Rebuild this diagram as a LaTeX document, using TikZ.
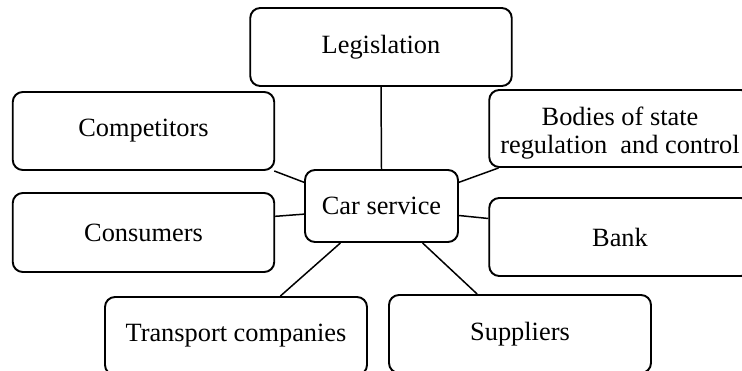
\documentclass[tikz,border=0pt]{standalone}
\usepackage{fontspec}
\setmainfont{Liberation Serif}
\usepackage{tikz}

\begin{document}
\begin{tikzpicture}[
   box/.style={draw, line width=1.1pt, rounded corners=0.2cm, minimum width=5.23cm, minimum height=1.56cm, align=center, inner sep=0pt},
   hub/.style={box, minimum width=3.06cm, minimum height=1.44cm},
   link/.style={line width=0.85pt},
   font=\fontsize{15}{16}\selectfont]
   \useasboundingbox (0, 0) rectangle (14.84, 7.42);
   \node [box] (leg) at (7.62, 6.48) {Legislation};
   \node [box] (comp) at (2.87, 4.80) {Competitors};
   \node [box, minimum height=1.54cm] (body) at (12.40, 4.85) {\raisebox{-0.1cm}[\height][\depth]{\begin{tabular}{@{}c@{}}Bodies of state\\regulation~ and control\end{tabular}}};
   \node [hub] (car) at (7.63, 3.30) {Car service};
   \node [box, minimum height=1.58cm] (cons) at (2.87, 2.77) {Consumers};
   \node [box] (bank) at (12.40, 2.68) {Bank};
   \node [box, minimum width=5.24cm] (trans) at (4.72, 0.70) {Transport companies};
   \node [box, minimum width=5.24cm] (supp) at (10.40, 0.74) {Suppliers};

   \draw [link] (leg.south) -- (car.north);
   \draw [link] (comp.-17) -- (car.163);
   \draw [link] (car.17) -- (body.198);
   \draw [link] (cons.7) -- (car.186);
   \draw [link] (car.-7) -- (bank.172);
   \draw [link] (car.222) -- (trans.42);
   \draw [link] (car.-42) -- (supp.137);
\end{tikzpicture}
\end{document}
